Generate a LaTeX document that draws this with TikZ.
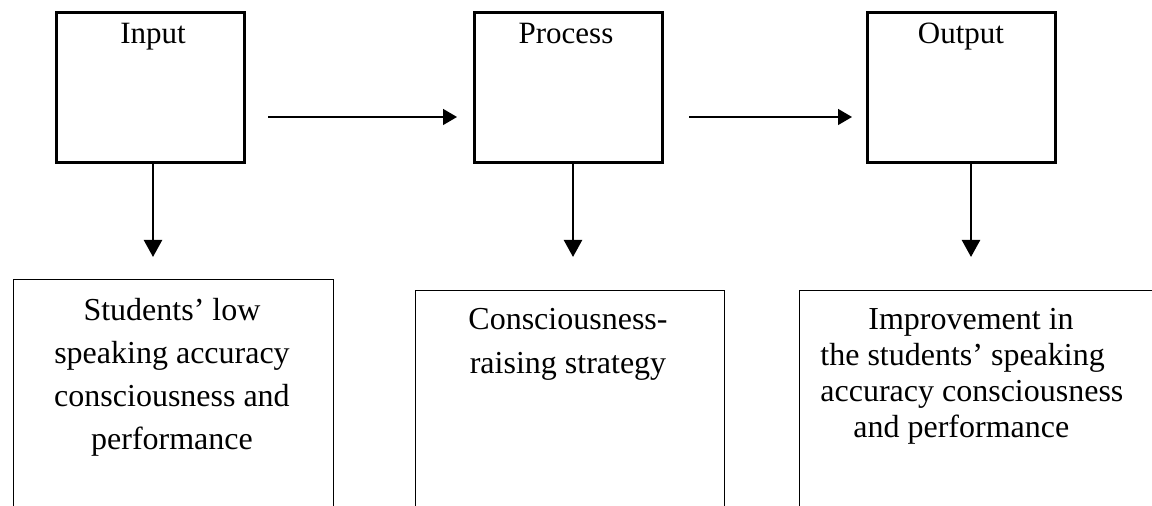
\documentclass[tikz,border=0pt]{standalone}
\usepackage{fontspec}
\setmainfont{Liberation Serif}
\usetikzlibrary{arrows.meta}
\begin{document}
\begin{tikzpicture}[x=0.5pt,y=-0.5pt,
  topbox/.style={draw,line width=1.5pt,minimum width=94pt,minimum height=75pt,inner sep=0pt},
  botbox/.style={draw,line width=0.7pt,inner sep=0pt,anchor=north west},
  toplabel/.style={anchor=base,font=\fontsize{15.5pt}{18pt}\selectfont,inner sep=0pt},
  bottext/.style={anchor=base,align=center,inner sep=0pt},
  harrow/.style={line width=0.75pt,-{Triangle[length=7pt,width=8pt]}},
  varrow/.style={line width=1.2pt,-{Triangle[length=8.5pt,width=9pt]}}]
\clip (0,0) rectangle (1152,506);
\fill[white] (0,0) rectangle (1152,506);
% top boxes
\node[topbox] (in) at (150,88) {};
\node[topbox] (pr) at (568,88) {};
\node[topbox] (out) at (961,88) {};
\node[toplabel] (inl) at (153,44) {Input};
\node[toplabel] (prl) at (566,44) {Process};
\node[toplabel] (outl) at (961,44) {Output};
% bottom boxes
\node[botbox,minimum width=160pt,minimum height=130pt] (inb) at (13,279) {};
\node[botbox,minimum width=154.5pt,minimum height=125pt] (prb) at (415,290) {};
\node[botbox,minimum width=178pt,minimum height=125pt] (outb) at (799,290) {};
\node[bottext,font=\fontsize{16pt}{21.5pt}\selectfont] (inbt) at (172,450)
  {Students’ low\\speaking accuracy\\consciousness and\\performance};
\node[bottext,font=\fontsize{16pt}{22pt}\selectfont] (prbt) at (568,374)
  {Consciousness-\\raising strategy};
\node[bottext,anchor=base west,align=left,font=\fontsize{16pt}{18pt}\selectfont] (outbt) at (820,438)
  {\hspace*{24pt}Improvement in\\the students’ speaking\\accuracy consciousness\\\hspace*{16.5pt}and performance};
% horizontal arrows
\coordinate (h1s) at (268,117);
\coordinate (h1e) at (457,117);
\coordinate (h2s) at (689,117);
\coordinate (h2e) at (852,117);
\draw[harrow] (h1s) -- (h1e);
\draw[harrow] (h2s) -- (h2e);
% vertical arrows
\coordinate (v1s) at (153,163);
\coordinate (v1e) at (153,257);
\coordinate (v2s) at (573,163);
\coordinate (v2e) at (573,257);
\coordinate (v3s) at (971,163);
\coordinate (v3e) at (971,257);
\draw[varrow] (v1s) -- (v1e);
\draw[varrow] (v2s) -- (v2e);
\draw[varrow] (v3s) -- (v3e);
\end{tikzpicture}
\end{document}
